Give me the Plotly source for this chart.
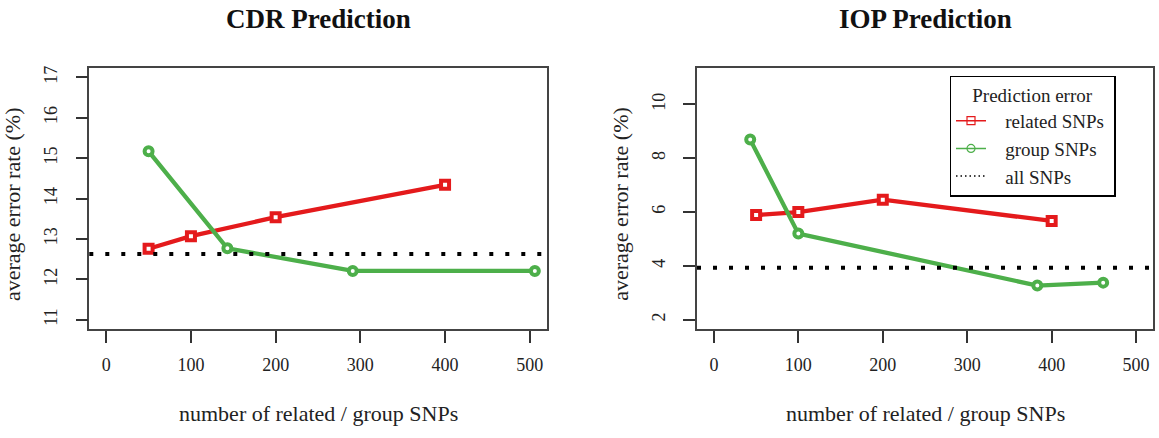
import plotly.graph_objects as go

# ---- data ----
cdr_related_x = [50, 100, 200, 400]
cdr_related_y = [12.76, 13.07, 13.54, 14.34]
cdr_group_x = [50, 143, 291, 506]
cdr_group_y = [15.17, 12.77, 12.21, 12.21]
cdr_all = 12.63

iop_related_x = [50, 100, 200, 400]
iop_related_y = [5.89, 6.00, 6.46, 5.67]
iop_group_x = [43, 100, 383, 461]
iop_group_y = [8.69, 5.20, 3.27, 3.38]
iop_all = 3.93

x_ticks = [0, 100, 200, 300, 400, 500]
cdr_y_ticks = [11, 12, 13, 14, 15, 16, 17]
iop_y_ticks = [2, 4, 6, 8, 10]

titles = ["CDR Prediction", "IOP Prediction"]
x_title = "number of related / group SNPs"
y_title = "average error rate (%)"
legend_title = "Prediction error"
series_names = ["related SNPs", "group SNPs", "all SNPs"]

RED = "#E41A1C"
GREEN = "#4DAF4A"
FONT = "Liberation Serif"
W, H = 1159, 438

fig = go.Figure()

panels = [
    dict(xa="x", ya="y", rx=cdr_related_x, ry=cdr_related_y, gx=cdr_group_x, gy=cdr_group_y, all=cdr_all),
    dict(xa="x2", ya="y2", rx=iop_related_x, ry=iop_related_y, gx=iop_group_x, gy=iop_group_y, all=iop_all),
]

for p in panels:
    fig.add_trace(go.Scatter(
        x=p["rx"], y=p["ry"], xaxis=p["xa"], yaxis=p["ya"], mode="lines+markers",
        line=dict(color=RED, width=4.3),
        marker=dict(symbol="square", size=8, color="white", line=dict(color=RED, width=4)),
        showlegend=False, hoverinfo="x+y"))
    fig.add_trace(go.Scatter(
        x=p["gx"], y=p["gy"], xaxis=p["xa"], yaxis=p["ya"], mode="lines+markers",
        line=dict(color=GREEN, width=4.3),
        marker=dict(symbol="circle", size=8, color="white", line=dict(color=GREEN, width=4)),
        showlegend=False, hoverinfo="x+y"))
    fig.add_shape(type="line", xref=p["xa"] + " domain", yref=p["ya"],
                  x0=0, x1=1, y0=p["all"], y1=p["all"],
                  line=dict(color="black", width=4, dash="4px,12px"), layer="above")

# legend-only entries (small glyphs like the reference)
pad = "\u00a0\u00a0\u00a0"
tail = "\u00a0"
fig.add_trace(go.Scatter(x=[None], y=[None], xaxis="x2", yaxis="y2", mode="lines+markers",
                         name=pad + series_names[0] + tail, line=dict(color=RED, width=1.5),
                         marker=dict(symbol="square-open", size=8, color=RED, line=dict(width=1.2))))
fig.add_trace(go.Scatter(x=[None], y=[None], xaxis="x2", yaxis="y2", mode="lines+markers",
                         name=pad + series_names[1] + tail, line=dict(color=GREEN, width=1.5),
                         marker=dict(symbol="circle-open", size=8, color=GREEN, line=dict(width=1.2))))
fig.add_trace(go.Scatter(x=[None], y=[None], xaxis="x2", yaxis="y2", mode="lines",
                         name=pad + series_names[2] + tail,
                         line=dict(color="black", width=1.5, dash="1.5px,3px")))

# plot-box geometry (px)
box_left = [89.3, 697.0]
box_right = [546.7, 1153.0]
box_top, box_bottom = 66.0, 329.0

axis_common = dict(showgrid=False, zeroline=False, showline=True, mirror=True,
                   linecolor="#444444", linewidth=1.5, ticks="outside", ticklen=12,
                   tickwidth=1.5, tickcolor="#333333",
                   tickfont=dict(family=FONT, size=18, color="#222222"))

yd = [1 - box_bottom / H, 1 - box_top / H]
fig.update_layout(
    xaxis=dict(domain=[box_left[0] / W, box_right[0] / W], range=[-20, 520], tickvals=x_ticks,
               anchor="y", ticklabelstandoff=6, **axis_common),
    yaxis=dict(domain=yd, range=[10.76, 17.24], tickvals=cdr_y_ticks, anchor="x",
               tickangle=-90, ticklabelstandoff=11, **axis_common),
    xaxis2=dict(domain=[box_left[1] / W, box_right[1] / W], range=[-20, 520], tickvals=x_ticks,
                anchor="y2", ticklabelstandoff=6, **axis_common),
    yaxis2=dict(domain=yd, range=[1.64, 11.36], tickvals=iop_y_ticks, anchor="x2",
                tickangle=-90, ticklabelstandoff=11, **axis_common),
    width=W, height=H, margin=dict(l=0, r=0, t=0, b=0),
    plot_bgcolor="white", paper_bgcolor="white",
    showlegend=True,
    legend=dict(x=949.5 / W, y=1 - 74 / H, xanchor="left", yanchor="top",
                bgcolor="white", bordercolor="black", borderwidth=1.5,
                font=dict(family=FONT, size=19, color="#222222"),
                title=dict(text=legend_title, side="top center",
                           font=dict(family=FONT, size=19, color="#222222")),
                itemwidth=30, tracegroupgap=0),
    font=dict(family=FONT),
)

annotations = []
for i, xa in enumerate(["x", "x2"]):
    annotations.append(dict(text="<b>" + titles[i] + "</b>", xref=xa + " domain", x=0.5,
                            yref="paper", y=1 - 17 / H, showarrow=False, xanchor="center",
                            yanchor="middle", font=dict(family=FONT, size=27, color="#111111")))
    annotations.append(dict(text=x_title, xref=xa + " domain", x=0.5, yref="paper",
                            y=1 - 413 / H, showarrow=False, xanchor="center", yanchor="middle",
                            font=dict(family=FONT, size=22, color="#222222")))
ylab_x = [12.0, 619.7]
for i in range(2):
    annotations.append(dict(text=y_title, xref="paper", x=ylab_x[i] / W, yref="paper",
                            y=1 - 203 / H, showarrow=False, textangle=-90, xanchor="center",
                            yanchor="middle", font=dict(family=FONT, size=22, color="#222222")))
fig.update_layout(annotations=annotations)

fig.write_html("out.html")
